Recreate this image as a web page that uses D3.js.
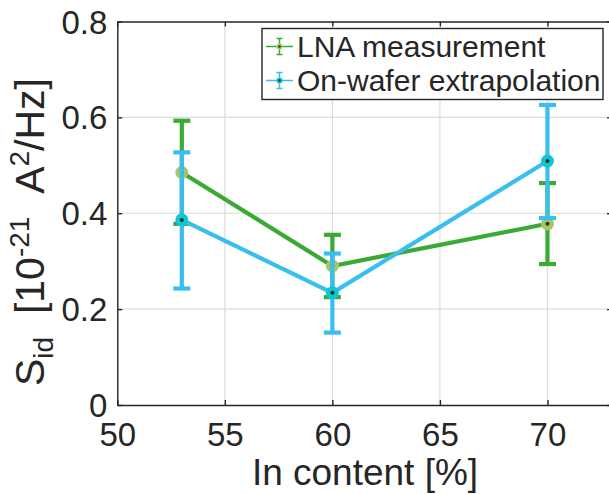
<!DOCTYPE html>
<html>
<head>
<meta charset="utf-8">
<script src="https://cdn.jsdelivr.net/npm/d3@7"></script>
<style>
  body { margin: 0; background: #fff; }
  svg text { font-family: Arial, "Liberation Sans", Helvetica, sans-serif; fill: #262626; }
</style>
</head>
<body>
<svg id="chart" width="609" height="494"></svg>
<script>
// data
var inContent = [53, 60, 70];
var lnaValues = [0.485, 0.290, 0.378];
var lnaLower = [0.378, 0.225, 0.294];
var lnaUpper = [0.593, 0.355, 0.463];
var waferValues = [0.386, 0.234, 0.509];
var waferLower = [0.243, 0.151, 0.390];
var waferUpper = [0.527, 0.316, 0.626];
var xTicks = [50, 55, 60, 65, 70];
var yTicks = [0, 0.2, 0.4, 0.6, 0.8];
var seriesNames = ["LNA measurement", "On-wafer extrapolation"];

var margin = {top: 21.5, left: 117.3, bottom: 405};
var fontFam = "Arial, 'Liberation Sans', Helvetica, sans-serif";

var svg = d3.select("#chart");

var x = d3.scaleLinear().domain([50, 73]).range([margin.left, 612]);
var y = d3.scaleLinear().domain([0, 0.8]).range([margin.bottom, margin.top]);

// grid
svg.append("g").selectAll("line")
  .data(xTicks.slice(1))
  .enter().append("line")
    .attr("x1", function(d) { return x(d); })
    .attr("x2", function(d) { return x(d); })
    .attr("y1", y(0)).attr("y2", y(0.8))
    .style("stroke", "#dcdcdc").style("stroke-width", 1.2);

svg.append("g").selectAll("line")
  .data(yTicks.slice(1, -1))
  .enter().append("line")
    .attr("x1", x(50)).attr("x2", x(73))
    .attr("y1", function(d) { return y(d); })
    .attr("y2", function(d) { return y(d); })
    .style("stroke", "#dcdcdc").style("stroke-width", 1.2);

// axes (box with inward ticks)
var fmtY = function(d) { return d === 0 ? "0" : d3.format(".1f")(d); };

var xAxis = svg.append("g")
  .attr("transform", "translate(0," + y(0) + ")")
  .call(d3.axisBottom(x).tickValues(xTicks).tickSize(-5).tickSizeOuter(0).tickPadding(18));
var xTop = svg.append("g")
  .attr("transform", "translate(0," + y(0.8) + ")")
  .call(d3.axisTop(x).tickValues(xTicks).tickSize(-5).tickSizeOuter(0).tickFormat(""));
var yAxis = svg.append("g")
  .attr("transform", "translate(" + x(50) + ",0)")
  .call(d3.axisLeft(y).tickValues(yTicks).tickSize(-5).tickSizeOuter(0).tickPadding(10).tickFormat(fmtY));
var yRight = svg.append("g")
  .attr("transform", "translate(" + x(73) + ",0)")
  .call(d3.axisRight(y).tickValues(yTicks).tickSize(-5).tickSizeOuter(0).tickFormat(""));

[xAxis, xTop, yAxis, yRight].forEach(function(a) {
  a.attr("font-family", fontFam);
  a.select(".domain").style("stroke", "#262626").style("stroke-width", 1.4);
  a.selectAll(".tick line").style("stroke", "#262626").style("stroke-width", 1.4);
});
xAxis.selectAll("text").style("font-size", "33px").attr("dy", "0.71em").style("fill", "#262626");
yAxis.selectAll("text").style("font-size", "33px").attr("dy", "0.35em").style("fill", "#262626");

// series
function drawSeries(vals, lo, hi, color, markerFill) {
  var g = svg.append("g");
  var pts = inContent.map(function(d, i) { return {x: d, v: vals[i], lo: lo[i], hi: hi[i]}; });

  g.append("path")
    .datum(pts)
    .attr("d", d3.line().x(function(d) { return x(d.x); }).y(function(d) { return y(d.v); }))
    .style("fill", "none").style("stroke", color).style("stroke-width", 4.2);

  g.selectAll(".bar").data(pts).enter().append("line")
    .attr("x1", function(d) { return x(d.x); }).attr("x2", function(d) { return x(d.x); })
    .attr("y1", function(d) { return y(d.lo); }).attr("y2", function(d) { return y(d.hi); })
    .style("stroke", color).style("stroke-width", 4.2);

  ["lo", "hi"].forEach(function(k) {
    g.selectAll(".cap" + k).data(pts).enter().append("line")
      .attr("x1", function(d) { return x(d.x) - 8.5; }).attr("x2", function(d) { return x(d.x) + 8.5; })
      .attr("y1", function(d) { return y(d[k]); }).attr("y2", function(d) { return y(d[k]); })
      .style("stroke", color).style("stroke-width", 4.2);
  });

  g.selectAll(".mk").data(pts).enter().append("circle")
    .attr("cx", function(d) { return x(d.x); }).attr("cy", function(d) { return y(d.v); })
    .attr("r", 6.5)
    .style("fill", markerFill);

  g.selectAll(".dot").data(pts).enter().append("circle")
    .attr("cx", function(d) { return x(d.x); }).attr("cy", function(d) { return y(d.v); })
    .attr("r", 2)
    .style("fill", "#2f3a08");
}

drawSeries(lnaValues, lnaLower, lnaUpper, "#3aaa35", "#a9c56a");
drawSeries(waferValues, waferLower, waferUpper, "#38bff0", "#0ec6d6");

// legend
var legend = svg.append("g");
legend.append("rect")
  .attr("x", 262).attr("y", 28.5).attr("width", 341).attr("height", 71)
  .style("fill", "#fff").style("stroke", "#262626").style("stroke-width", 1.4);

var legColors = [["#3aaa35", "#a9c56a"], ["#38bff0", "#0ec6d6"]];
seriesNames.forEach(function(name, i) {
  var cy = 46.5 + i * 34;
  var row = legend.append("g");
  row.append("line").attr("x1", 266).attr("x2", 293).attr("y1", cy).attr("y2", cy)
    .style("stroke", legColors[i][0]).style("stroke-width", 1.5);
  row.append("line").attr("x1", 279.5).attr("x2", 279.5).attr("y1", cy - 8).attr("y2", cy + 8)
    .style("stroke", legColors[i][0]).style("stroke-width", 1.5);
  [-8, 8].forEach(function(o) {
    row.append("line").attr("x1", 276.5).attr("x2", 282.5).attr("y1", cy + o).attr("y2", cy + o)
      .style("stroke", legColors[i][0]).style("stroke-width", 1.5);
  });
  row.append("circle").attr("cx", 279.5).attr("cy", cy).attr("r", 3)
    .style("fill", legColors[i][1]);
  row.append("circle").attr("cx", 279.5).attr("cy", cy).attr("r", 1.3)
    .style("fill", "#2f3a08");
  row.append("text").attr("x", 297).attr("y", cy).attr("dy", "0.36em")
    .style("font-size", "30px").text(name);
});

// axis labels
svg.append("text")
  .attr("x", 365).attr("y", 485)
  .attr("text-anchor", "middle")
  .style("font-size", "37px")
  .text("In content [%]");

var yl = svg.append("text")
  .attr("transform", "translate(44,232) rotate(-90)")
  .attr("text-anchor", "middle")
  .style("font-size", "41px");
yl.append("tspan").text("S");
yl.append("tspan").attr("dy", 9).style("font-size", "28px").text("id");
yl.append("tspan").attr("dy", -9).text("\u00a0\u00a0[10");
yl.append("tspan").attr("dy", -15).style("font-size", "28px").text("-21");
yl.append("tspan").attr("dy", 15).text("\u00a0\u00a0A");
yl.append("tspan").attr("dy", -15).style("font-size", "28px").text("2");
yl.append("tspan").attr("dy", 15).text("/Hz]");
</script>
</body>
</html>
